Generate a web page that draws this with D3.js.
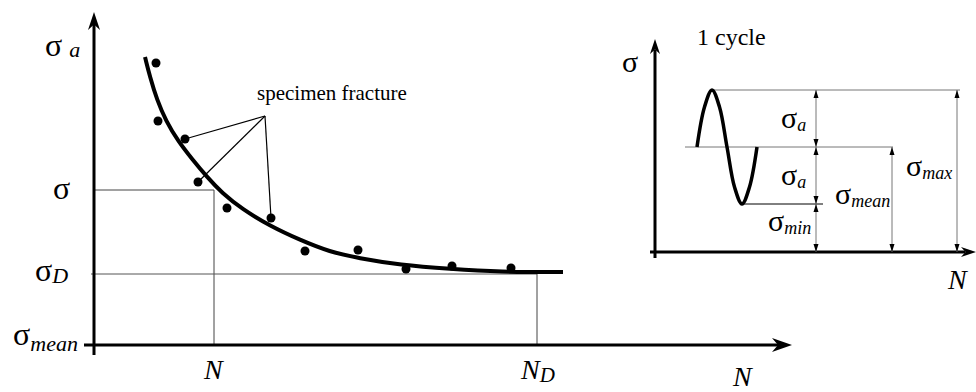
<!DOCTYPE html>
<html><head><meta charset="utf-8">
<script src="https://cdn.jsdelivr.net/npm/d3@7"></script>
<style>
html,body{margin:0;padding:0;background:#fff;}
</style></head>
<body>
<svg id="c" width="976" height="392"></svg>
<script>
// ---- main S-N (Woehler) chart data, in chart units (N from axis origin, sigma above sigma_mean) ----
const curveN     = [51, 56, 63, 72, 84, 98, 113, 128, 148, 176, 206, 236, 264, 306, 356, 406, 469];
const curveSigma = [288, 268, 245, 224, 204, 186, 168, 152, 136, 119, 105, 93, 87, 80, 76, 73, 73];
const pointN     = [62, 64, 91, 104, 133, 177, 211, 264, 312, 358, 417];
const pointSigma = [282, 224, 206, 163, 137, 127, 94, 95, 76, 79, 77];
const fracturePts = [2, 3, 5];           // indices of points linked to the "specimen fracture" label
const labelAnchor = {N: 171, S: 229};    // where the leader lines meet
const sigmaLevel = 155, sigmaDLevel = 71, nLevel = 120, nDLevel = 443;

// ---- inset: one load cycle ----
const cycleT     = [42, 49.5, 57, 64.5, 72, 79.5, 87, 94.5, 102];
const cycleSigma = [105, 145, 162, 145, 105, 65, 48, 65, 105];
const sMax = 162, sMean = 105, sMin = 48;

const FONT = '"Liberation Serif", "DejaVu Serif", serif';
const svg = d3.select("#c");
const ink = "#000", thin = "#444";

const x = d3.scaleLinear().domain([0, 700]).range([94, 794]);
const y = d3.scaleLinear().domain([0, 300]).range([345, 45]);
const xi = d3.scaleLinear().domain([0, 320]).range([655, 975]);
const yi = d3.scaleLinear().domain([0, 220]).range([252, 32]);

function arrowHead(g, tx, ty, dir, len, half) {
  let p;
  if (dir === 'right') p = [[tx,ty],[tx-len,ty-half],[tx-len*0.7,ty],[tx-len,ty+half]];
  else p = [[tx,ty],[tx-half,ty+len],[tx,ty+len*0.7],[tx+half,ty+len]];
  g.append("path").attr("d", d3.line()(p) + "Z").attr("fill", ink);
}
function txt(g, xx, yy, fs) {
  return g.append("text").attr("x", xx).attr("y", yy).style("font-family", FONT).style("font-size", fs + "px").attr("fill", ink);
}

// ---------- MAIN CHART ----------
const gm = svg.append("g");
gm.append("line").attr("x1", x(0)).attr("x2", x(nLevel)).attr("y1", y(sigmaLevel)).attr("y2", y(sigmaLevel)).attr("stroke", thin).attr("stroke-width", 1);
gm.append("line").attr("x1", x(nLevel)).attr("x2", x(nLevel)).attr("y1", y(sigmaLevel)).attr("y2", y(0)).attr("stroke", thin).attr("stroke-width", 1);
gm.append("line").attr("x1", x(-3)).attr("x2", x(nDLevel)).attr("y1", y(sigmaDLevel)).attr("y2", y(sigmaDLevel)).attr("stroke", "#555").attr("stroke-width", 1);
gm.append("line").attr("x1", x(nDLevel)).attr("x2", x(nDLevel)).attr("y1", y(sigmaDLevel)).attr("y2", y(0)).attr("stroke", thin).attr("stroke-width", 1);

gm.append("line").attr("x1", x(0)).attr("x2", x(0)).attr("y1", y(-10)).attr("y2", 22).attr("stroke", ink).attr("stroke-width", 3);
arrowHead(gm, x(0), 12, 'up', 18, 6);
gm.append("line").attr("x1", x(-10)).attr("x2", 780).attr("y1", y(0)).attr("y2", y(0)).attr("stroke", ink).attr("stroke-width", 3);
arrowHead(gm, 792, y(0), 'right', 20, 7);

const curveData = curveN.map((n, i) => [n, curveSigma[i]]);
gm.append("path").attr("d", d3.line().x(d => x(d[0])).y(d => y(d[1])).curve(d3.curveBasis)(curveData))
  .attr("fill", "none").attr("stroke", ink).attr("stroke-width", 4);

fracturePts.forEach(i => {
  gm.append("line").attr("x1", x(labelAnchor.N)).attr("y1", y(labelAnchor.S))
    .attr("x2", x(pointN[i])).attr("y2", y(pointSigma[i])).attr("stroke", ink).attr("stroke-width", 1.2);
});
gm.selectAll("circle.pt").data(pointN).join("circle").attr("class", "pt")
  .attr("cx", (d) => x(d)).attr("cy", (d, i) => y(pointSigma[i])).attr("r", 4.5).attr("fill", ink);

txt(gm, 257, 100, 21).text("specimen fracture");

function sig(g, xx, yy, sub, fs, subfs, dx, dy) {
  const t = txt(g, xx, yy, fs);
  t.append("tspan").text("σ");
  if (sub) t.append("tspan").attr("dx", dx || 0).attr("dy", dy || 0).style("font-size", subfs + "px").style("font-style", "italic").text(sub);
  return t;
}
sig(gm, 45, 56, "a", 32, 22, 7, 1);
sig(gm, 53, 199, null, 32);
sig(gm, 35, 281, "D", 32, 22, 0, 2);
sig(gm, 13, 345, "mean", 32, 22, 0, 6);

function nlab(g, xx, yy, sub, fs) {
  const t = txt(g, xx, yy, fs).style("font-style", "italic");
  t.append("tspan").text("N");
  if (sub) t.append("tspan").attr("dy", 3).style("font-size", "21px").text(sub);
}
nlab(gm, 204, 379, null, 28);
nlab(gm, 521, 379, "D", 28);
nlab(gm, 733, 386, null, 28);

// ---------- INSET ----------
const gi = svg.append("g");
const grey = "#777";
gi.append("line").attr("x1", xi(57)).attr("x2", xi(305)).attr("y1", yi(sMax)).attr("y2", yi(sMax)).attr("stroke", grey).attr("stroke-width", 1);
gi.append("line").attr("x1", xi(30)).attr("x2", xi(238)).attr("y1", yi(sMean)).attr("y2", yi(sMean)).attr("stroke", grey).attr("stroke-width", 1);
gi.append("line").attr("x1", xi(87)).attr("x2", xi(168)).attr("y1", yi(sMin)).attr("y2", yi(sMin)).attr("stroke", ink).attr("stroke-width", 1);

gi.append("line").attr("x1", xi(0)).attr("x2", xi(0)).attr("y1", yi(-6)).attr("y2", 50).attr("stroke", ink).attr("stroke-width", 3);
arrowHead(gi, xi(0), 39, 'up', 15, 5);
gi.append("line").attr("x1", xi(-5)).attr("x2", 965).attr("y1", yi(0)).attr("y2", yi(0)).attr("stroke", ink).attr("stroke-width", 3);
arrowHead(gi, 976, yi(0), 'right', 15, 5);

const cyc = cycleT.map((t, i) => [t, cycleSigma[i]]);
gi.append("path").attr("d", d3.line().x(d => xi(d[0])).y(d => yi(d[1])).curve(d3.curveCatmullRom)(cyc))
  .attr("fill", "none").attr("stroke", ink).attr("stroke-width", 3.5);

function dim(xx, a, b) {
  gi.append("line").attr("x1", xi(xx)).attr("x2", xi(xx)).attr("y1", yi(a)).attr("y2", yi(b)).attr("stroke", grey).attr("stroke-width", 1);
  const top = yi(b), bot = yi(a), X = xi(xx);
  gi.append("path").attr("d", `M${X},${top}L${X-2.5},${top+8}L${X+2.5},${top+8}Z`).attr("fill", ink);
  gi.append("path").attr("d", `M${X},${bot}L${X-2.5},${bot-8}L${X+2.5},${bot-8}Z`).attr("fill", ink);
}
dim(161, sMean, sMax);
dim(161, sMin, sMean);
dim(161, 0, sMin);
dim(237, 0, sMean);
dim(302, 0, sMax);

txt(gi, 697, 45, 24).text("1 cycle");
sig(gi, 622, 72, null, 30);
sig(gi, 781, 128, "a", 30, 18, 0, 3);
sig(gi, 781, 185, "a", 30, 18, 0, 3);
sig(gi, 768, 231, "min", 30, 18, 0, 3);
sig(gi, 835, 204, "mean", 30, 18, 0, 3);
sig(gi, 906, 176, "max", 30, 18, 0, 3);
nlab(gi, 948, 289, null, 28);
</script>
</body></html>
